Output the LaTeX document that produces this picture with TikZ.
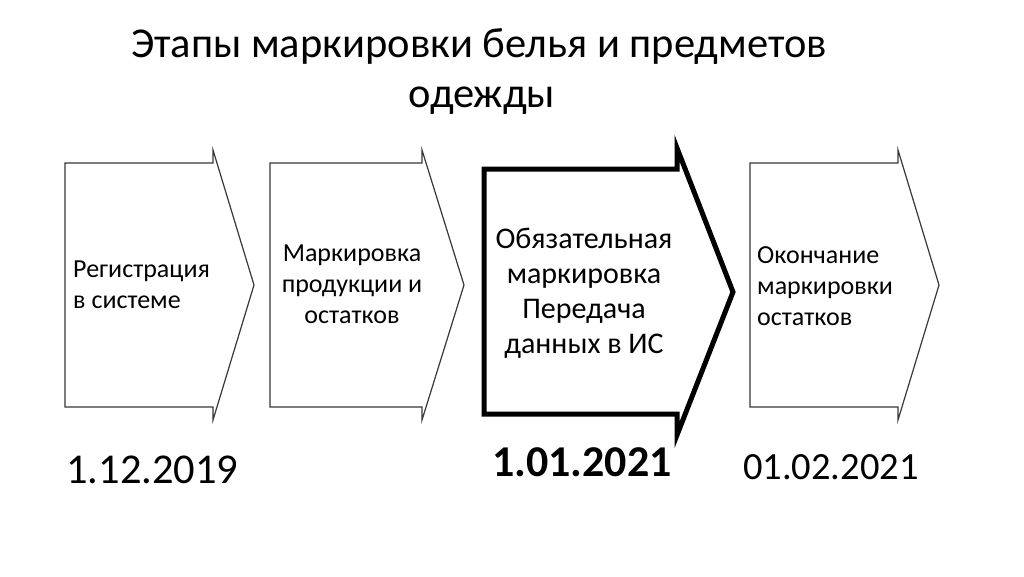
\documentclass[tikz,border=0pt]{standalone}
\usepackage{fontspec}
\setmainfont{Carlito}
\begin{document}
\begin{tikzpicture}[x=1pt,y=-1pt,
  thinarrow/.style={draw=black!78,line width=1.2pt,line join=miter},
  boldarrow/.style={draw=black,line width=5pt,line join=miter,miter limit=20},
  boxtxt/.style={inner sep=0pt,font=\fontsize{26}{31}\selectfont},
  datetxt/.style={inner sep=0pt,anchor=base west}]
\useasboundingbox[fill=white] (0,0) rectangle (1024,576);
% title
\node[inner sep=0pt,anchor=base,font=\fontsize{42.5}{51}\selectfont] (t1) at (479,57) {Этапы маркировки белья и предметов};
\node[inner sep=0pt,anchor=base,font=\fontsize{42.5}{51}\selectfont] (t2) at (482,107) {одежды};
% arrows
\draw[thinarrow] (65,163) -- (213,163) -- (213,150) -- (254,285) -- (213,420) -- (213,407) -- (65,407) -- cycle;
\draw[thinarrow] (270,163) -- (422,163) -- (422,150) -- (464,285) -- (422,420) -- (422,407) -- (270,407) -- cycle;
\draw[boldarrow] (484,169) -- (677,169) -- (677,148) -- (733,292) -- (677,435) -- (677,414) -- (484,414) -- cycle;
\draw[thinarrow] (750,163) -- (898,163) -- (898,150) -- (939,285) -- (898,420) -- (898,407) -- (750,407) -- cycle;
% box texts
\node[boxtxt,align=left,anchor=west] (b1) at (73,285) {Регистрация\\в системе};
\node[boxtxt,align=center] (b2) at (352,284) {Маркировка\\продукции и\\остатков};
\node[boxtxt,align=center,font=\fontsize{30}{35}\selectfont] (b3) at (584,293) {Обязательная\\маркировка\\Передача\\данных в ИС};
\node[boxtxt,align=left,anchor=west,font=\fontsize{26}{31}\selectfont] (b4) at (757,286) {Окончание\\маркировки\\остатков};
% dates
\node[datetxt,font=\fontsize{42.5}{48}\selectfont] (d1) at (66,483) {1.12.2019};
\node[datetxt,font=\fontsize{44}{48}\selectfont\bfseries] (d3) at (492,476) {1.01.2021};
\node[datetxt,font=\fontsize{38.5}{44}\selectfont] (d4) at (743,479) {01.02.2021};
\end{tikzpicture}
\end{document}
